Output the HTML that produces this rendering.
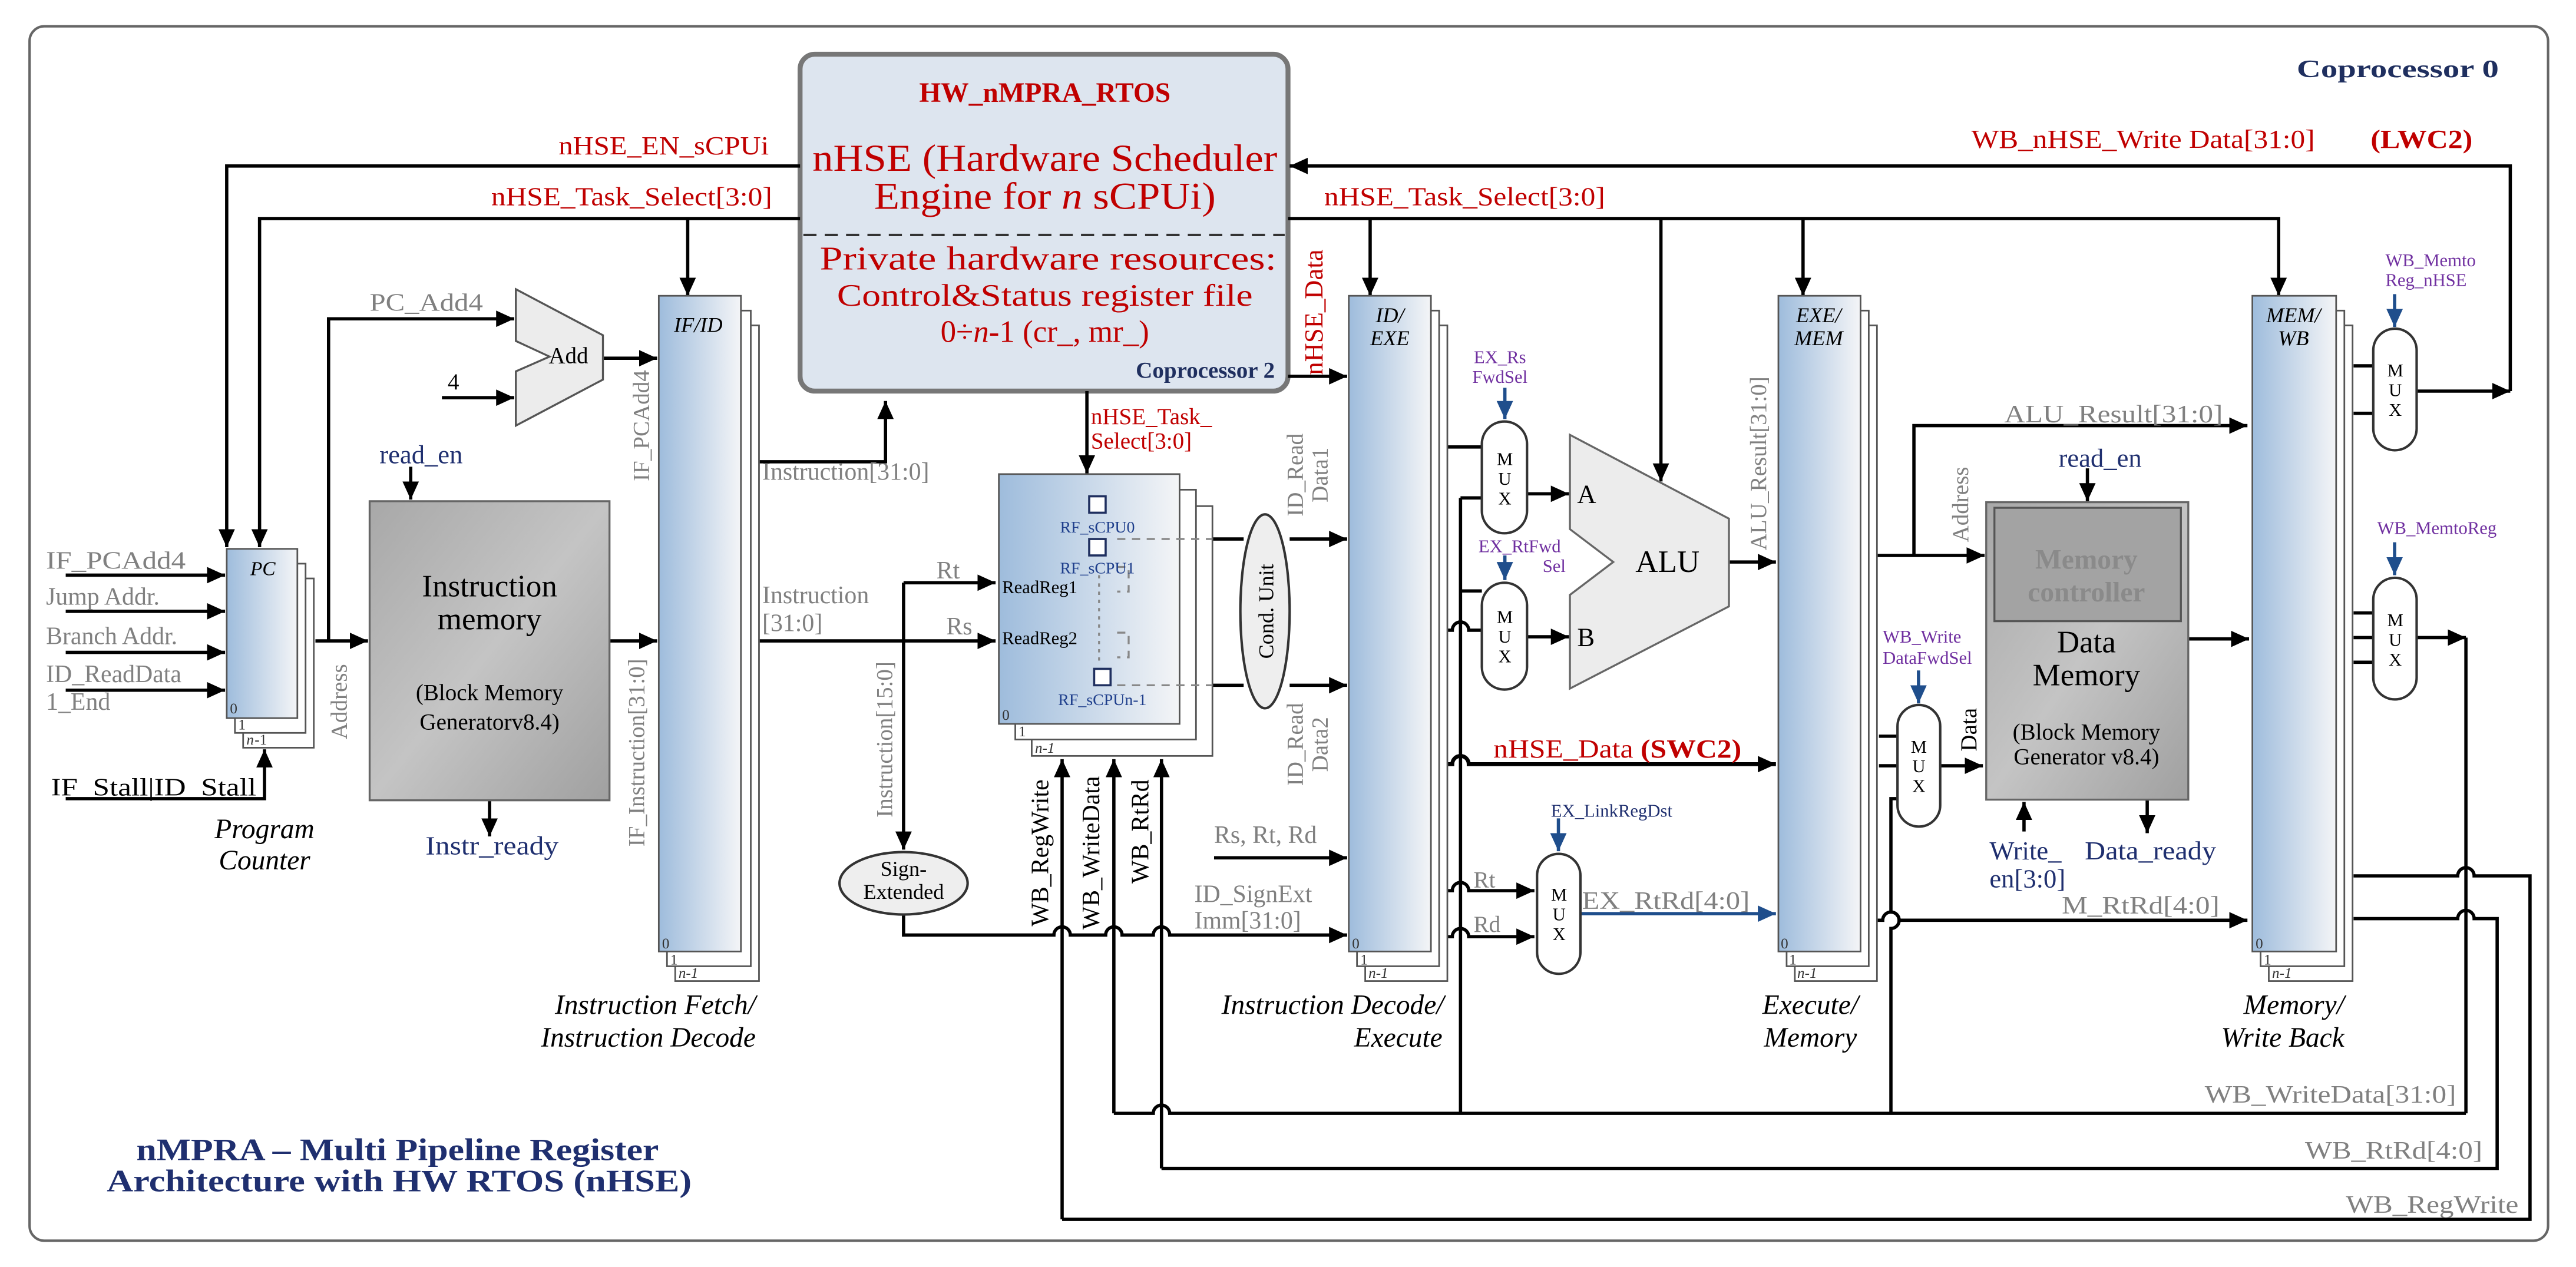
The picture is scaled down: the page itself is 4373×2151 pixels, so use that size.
<!DOCTYPE html>
<html><head><meta charset="utf-8"><style>html,body{margin:0;padding:0;background:#fff}svg{display:block}text{font-family:"Liberation Serif",serif}</style></head><body>
<svg width="4373" height="2151" viewBox="0 0 1568 771" preserveAspectRatio="none" xmlns="http://www.w3.org/2000/svg">
<defs>
<marker id="a" markerUnits="userSpaceOnUse" markerWidth="12" markerHeight="12" viewBox="0 0 12 12" refX="11" refY="6" orient="auto"><path d="M0,1 L11,6 L0,11 Z" fill="#000"/></marker>
<marker id="b" markerUnits="userSpaceOnUse" markerWidth="12" markerHeight="12" viewBox="0 0 12 12" refX="11" refY="6" orient="auto"><path d="M0,1 L11,6 L0,11 Z" fill="#1f4e8c"/></marker>
<linearGradient id="rg" x1="0" x2="1" y1="0" y2="0"><stop offset="0" stop-color="#9ebcdc"/><stop offset="1" stop-color="#f4f5f7"/></linearGradient>
<linearGradient id="gg" x1="0" x2="1" y1="0" y2="1"><stop offset="0" stop-color="#a8a8a8"/><stop offset="0.5" stop-color="#c4c4c4"/><stop offset="1" stop-color="#a0a0a0"/></linearGradient>
</defs>
<rect width="1568" height="771" fill="#fff"/>
<rect x="18" y="16" width="1533" height="739" rx="9" fill="#fff" stroke="#666" stroke-width="1.5"/>

<!-- HW box -->
<rect x="487" y="33" width="297" height="205" rx="9" fill="#dde5ef" stroke="#777" stroke-width="3"/>
<g fill="#c00000" text-anchor="middle">
<text x="636" y="62" font-size="17" font-weight="bold">HW_nMPRA_RTOS</text>
<text x="636" y="104" font-size="23" textLength="283" lengthAdjust="spacingAndGlyphs">nHSE (Hardware Scheduler</text>
<text x="636" y="127" font-size="23" textLength="208" lengthAdjust="spacingAndGlyphs">Engine for <tspan font-style="italic">n</tspan> sCPUi)</text>
<text x="638" y="164" font-size="20" textLength="278" lengthAdjust="spacingAndGlyphs">Private hardware resources:</text>
<text x="636" y="186" font-size="19" textLength="253" lengthAdjust="spacingAndGlyphs">Control&amp;Status register file</text>
<text x="636" y="208" font-size="19">0÷<tspan font-style="italic">n</tspan>-1 (cr_, mr_)</text>
</g>
<line x1="489" y1="143" x2="782" y2="143" stroke="#333" stroke-width="1.5" stroke-dasharray="8,5"/>
<text x="776" y="230" font-size="14" font-weight="bold" fill="#1f2f5f" text-anchor="end">Coprocessor 2</text>

<g fill="none" stroke="#000" stroke-width="2">
<!-- top lines -->
<polyline points="487,101 138,101 138,333" marker-end="url(#a)"/>
<polyline points="487,133 158,133 158,333" marker-end="url(#a)"/>
<line x1="418.6" y1="133" x2="418.6" y2="180" marker-end="url(#a)"/>
<polyline points="784,133 1387,133 1387,180" marker-end="url(#a)"/>
<line x1="834" y1="133" x2="834" y2="180" marker-end="url(#a)"/>
<line x1="1011" y1="133" x2="1011" y2="293" marker-end="url(#a)"/>
<line x1="1097.5" y1="133" x2="1097.5" y2="180" marker-end="url(#a)"/>
<polyline points="1528,238 1528,101 785,101" marker-end="url(#a)"/>
<line x1="1471" y1="238" x2="1528" y2="238" marker-end="url(#a)"/>
<line x1="784" y1="229" x2="820" y2="229" marker-end="url(#a)"/>
<line x1="661.6" y1="238" x2="661.6" y2="288" marker-end="url(#a)"/>
<polyline points="462,281 539,281 539,244" marker-end="url(#a)"/>
<!-- PC inputs -->
<line x1="40" y1="350" x2="137" y2="350" marker-end="url(#a)"/>
<line x1="40" y1="372" x2="137" y2="372" marker-end="url(#a)"/>
<line x1="40" y1="397" x2="137" y2="397" marker-end="url(#a)"/>
<line x1="40" y1="420" x2="137" y2="420" marker-end="url(#a)"/>
<polyline points="40,486 161,486 161,456" marker-end="url(#a)"/>
<line x1="192" y1="390" x2="224" y2="390" marker-end="url(#a)"/>
<polyline points="200,390 200,194 313,194" marker-end="url(#a)"/>
<line x1="269" y1="242" x2="313" y2="242" marker-end="url(#a)"/>
<line x1="367" y1="218" x2="400" y2="218" marker-end="url(#a)"/>
<line x1="250" y1="284" x2="250" y2="304" marker-end="url(#a)"/>
<line x1="371" y1="390" x2="400" y2="390" marker-end="url(#a)"/>
<line x1="298" y1="487" x2="298" y2="509" marker-end="url(#a)"/>
<!-- IF/ID out -->
<line x1="462" y1="390" x2="606" y2="390" marker-end="url(#a)"/>
<line x1="550" y1="354.6" x2="606" y2="354.6" marker-end="url(#a)"/>
<line x1="550" y1="354.6" x2="550" y2="517" marker-end="url(#a)"/>
<path d="M550,556.5 L550,569 L641.5,569 A5,5 0 0 1 651.5,569 L673,569 A5,5 0 0 1 683,569 L702,569 A5,5 0 0 1 712,569 L820,569" marker-end="url(#a)"/>
<!-- WB verticals -->
<line x1="646.5" y1="742" x2="646.5" y2="462" marker-end="url(#a)"/>
<line x1="678" y1="677.5" x2="678" y2="462" marker-end="url(#a)"/>
<line x1="707" y1="711" x2="707" y2="462" marker-end="url(#a)"/>
<!-- RF out -->
<line x1="738" y1="328" x2="757" y2="328"/>
<line x1="738" y1="417" x2="757" y2="417"/>
<line x1="785" y1="328" x2="820" y2="328" marker-end="url(#a)"/>
<line x1="785" y1="417" x2="820" y2="417" marker-end="url(#a)"/>
<line x1="739" y1="522" x2="820" y2="522" marker-end="url(#a)"/>
<!-- EX -->
<line x1="881" y1="272" x2="902" y2="272"/>
<line x1="889" y1="303" x2="902" y2="303"/>
<line x1="889" y1="303" x2="889" y2="677.5"/>
<line x1="889" y1="359.6" x2="902" y2="359.6"/>
<path d="M881,383.5 L884,383.5 A5,5 0 0 1 894,383.5 L902,383.5"/>
<line x1="929.5" y1="300.5" x2="955" y2="300.5" marker-end="url(#a)"/>
<line x1="929.5" y1="387.5" x2="955" y2="387.5" marker-end="url(#a)"/>
<line x1="1052.4" y1="342" x2="1081" y2="342" marker-end="url(#a)"/>
<path d="M881,465 L884,465 A5,5 0 0 1 894,465 L1081,465" stroke-width="2.4" marker-end="url(#a)"/>
<path d="M881,542 L884,542 A5,5 0 0 1 894,542 L934,542" marker-end="url(#a)"/>
<path d="M881,570 L884,570 A5,5 0 0 1 894,570 L934,570" marker-end="url(#a)"/>
<!-- MEM -->
<line x1="1142.7" y1="338" x2="1208" y2="338" marker-end="url(#a)"/>
<polyline points="1165,338 1165,259 1368,259" marker-end="url(#a)"/>
<line x1="1270.6" y1="285" x2="1270.6" y2="305" marker-end="url(#a)"/>
<line x1="1332" y1="388.8" x2="1369" y2="388.8" marker-end="url(#a)"/>
<line x1="1143.7" y1="448" x2="1155" y2="448"/>
<line x1="1143.7" y1="466" x2="1155" y2="466"/>
<path d="M1155,486 L1151,486 L1151,555 A5,5 0 0 1 1151,565 L1151,677.5"/>
<line x1="1181" y1="466" x2="1207" y2="466" marker-end="url(#a)"/>
<line x1="1232" y1="506" x2="1232" y2="488" marker-end="url(#a)"/>
<line x1="1307" y1="487" x2="1307" y2="507" marker-end="url(#a)"/>
<path d="M1142.7,560 L1146,560 A5,5 0 0 1 1156,560 L1368,560" marker-end="url(#a)"/>
<!-- WB -->
<line x1="1432.6" y1="222.6" x2="1444.6" y2="222.6"/>
<line x1="1432.6" y1="251.5" x2="1444.6" y2="251.5"/>
<line x1="1432.6" y1="373" x2="1444.6" y2="373"/>
<line x1="1432.6" y1="388" x2="1444.6" y2="388"/>
<line x1="1432.6" y1="403" x2="1444.6" y2="403"/>
<line x1="1471" y1="388" x2="1501" y2="388" marker-end="url(#a)"/>
<line x1="1501" y1="388" x2="1501" y2="677.5"/>
<path d="M1432.6,533 L1496,533 A5,5 0 0 1 1506,533 L1540,533 L1540,742 L646.5,742"/>
<path d="M1432.6,559 L1496,559 A5,5 0 0 1 1506,559 L1520,559 L1520,711 L707,711"/>
<path d="M678,677.5 L702,677.5 A5,5 0 0 1 712,677.5 L1501,677.5"/>
</g>
<g fill="none" stroke="#1f4e8c" stroke-width="2">
<line x1="916" y1="236" x2="916" y2="255" marker-end="url(#b)"/>
<line x1="916" y1="338" x2="916" y2="353" marker-end="url(#b)"/>
<line x1="948.6" y1="498" x2="948.6" y2="518" marker-end="url(#b)"/>
<line x1="962" y1="556" x2="1081" y2="556" marker-end="url(#b)"/>
<line x1="1167.8" y1="408" x2="1167.8" y2="428" marker-end="url(#b)"/>
<line x1="1457.6" y1="179" x2="1457.6" y2="199" marker-end="url(#b)"/>
<line x1="1457.6" y1="330" x2="1457.6" y2="350" marker-end="url(#b)"/>
</g>

<!-- register stacks -->
<g stroke="#555" stroke-width="1">
<rect x="148" y="352" width="43" height="103" fill="#fff"/><rect x="143" y="343" width="43" height="103" fill="#fff"/><rect x="138" y="334" width="43" height="103" fill="url(#rg)"/>
<rect x="411" y="198" width="51" height="399" fill="#fff"/><rect x="406" y="189" width="51" height="399" fill="#fff"/><rect x="401" y="180" width="50" height="399" fill="url(#rg)"/>
<rect x="628" y="308" width="110" height="152" fill="#fff"/><rect x="618" y="298" width="110" height="152" fill="#fff"/><rect x="608" y="288.5" width="110" height="152" fill="url(#rg)"/>
<rect x="831" y="198" width="50" height="399" fill="#fff"/><rect x="826" y="189" width="50" height="399" fill="#fff"/><rect x="821" y="180" width="50" height="399" fill="url(#rg)"/>
<rect x="1092.5" y="198" width="50" height="399" fill="#fff"/><rect x="1087.5" y="189" width="50" height="399" fill="#fff"/><rect x="1082.5" y="180" width="50" height="399" fill="url(#rg)"/>
<rect x="1381" y="198" width="51" height="399" fill="#fff"/><rect x="1376" y="189" width="51" height="399" fill="#fff"/><rect x="1371" y="180" width="51" height="399" fill="url(#rg)"/>
</g>
<g font-size="9" fill="#333">
<text x="140" y="434">0</text><text x="145" y="444">1</text><text x="150" y="453" font-style="italic">n</text><text x="155" y="453">-1</text>
<text x="403" y="577">0</text><text x="408" y="587">1</text><text x="413" y="595" font-style="italic">n-1</text>
<text x="610" y="438">0</text><text x="620" y="448">1</text><text x="630" y="458" font-style="italic">n-1</text>
<text x="823" y="577">0</text><text x="828" y="587">1</text><text x="833" y="595" font-style="italic">n-1</text>
<text x="1084" y="577">0</text><text x="1089" y="587">1</text><text x="1094" y="595" font-style="italic">n-1</text>
<text x="1373" y="577">0</text><text x="1378" y="587">1</text><text x="1383" y="595" font-style="italic">n-1</text>
</g>

<!-- shapes -->
<polygon points="314,176 367,204 367,231 314,259 314,226 334.5,217 314,207.5" fill="#ececec" stroke="#555" stroke-width="1.2"/>
<rect x="225" y="305" width="146" height="182" fill="url(#gg)" stroke="#666" stroke-width="1.2"/>
<ellipse cx="550" cy="537.5" rx="39" ry="19" fill="#eee" stroke="#333" stroke-width="1.5"/>
<ellipse cx="770" cy="372" rx="15" ry="59" fill="#eee" stroke="#333" stroke-width="1.5"/>
<polygon points="955.6,264.6 1052.4,315.6 1052.4,369 955.6,419 955.6,362 982,342 955.6,322" fill="#ececec" stroke="#666" stroke-width="1.2"/>
<rect x="1209" y="305.6" width="123" height="181" fill="url(#gg)" stroke="#666" stroke-width="1.2"/>
<rect x="1214" y="309" width="113.5" height="69" fill="#a3a3a3" stroke="#555" stroke-width="1.2"/>
<g fill="#fff" stroke="#333" stroke-width="1.5">
<rect x="902" y="256.5" width="27.5" height="68" rx="13.7"/>
<rect x="902" y="354.6" width="27.5" height="65" rx="13.7"/>
<rect x="935.6" y="519.6" width="26.4" height="73" rx="13.2"/>
<rect x="1155" y="429" width="26" height="74" rx="13"/>
<rect x="1444.6" y="200" width="26.4" height="74" rx="13.2"/>
<rect x="1444.6" y="351.6" width="26.4" height="74" rx="13.2"/>
</g>
<!-- RF internals -->
<g stroke="#888" stroke-width="1.2" fill="none" stroke-dasharray="5,4">
<line x1="680" y1="328" x2="738" y2="328"/><line x1="680" y1="417" x2="738" y2="417"/>
<line x1="669" y1="350" x2="669" y2="405" stroke-dasharray="2,3"/>
<polyline points="680,345 687,345 687,360 680,360"/><polyline points="680,385 687,385 687,400 680,400"/>
</g>
<g fill="#fff" stroke="#1f2f5f" stroke-width="1.3">
<rect x="663" y="302" width="10" height="10"/><rect x="663" y="328" width="10" height="10"/><rect x="666" y="407" width="10" height="10"/>
</g>
<g font-size="10" fill="#1f3f8c" text-anchor="middle">
<text x="668" y="324">RF_sCPU0</text><text x="668" y="349">RF_sCPU1</text><text x="671" y="429">RF_sCPUn-1</text>
</g>
<text x="610" y="361" font-size="11">ReadReg1</text><text x="610" y="392" font-size="11">ReadReg2</text>

<!-- text labels -->
<g fill="#c00000" font-size="16">
<text x="340" y="94" textLength="128" lengthAdjust="spacingAndGlyphs">nHSE_EN_sCPUi</text>
<text x="299" y="125" textLength="171" lengthAdjust="spacingAndGlyphs">nHSE_Task_Select[3:0]</text>
<text x="806" y="125" textLength="171" lengthAdjust="spacingAndGlyphs">nHSE_Task_Select[3:0]</text>
<text x="1200" y="90" textLength="209" lengthAdjust="spacingAndGlyphs">WB_nHSE_Write Data[31:0]</text>
<text x="1443" y="90" font-weight="bold" textLength="62" lengthAdjust="spacingAndGlyphs">(LWC2)</text>
<text x="664" y="258" font-size="14">nHSE_Task_</text><text x="664" y="273" font-size="14">Select[3:0]</text>
<text transform="translate(805,190) rotate(-90)" text-anchor="middle">nHSE_Data</text>
<text x="909" y="461" textLength="151" lengthAdjust="spacingAndGlyphs">nHSE_Data <tspan font-weight="bold">(SWC2)</tspan></text>
</g>
<text x="1398" y="47" font-size="15" font-weight="bold" fill="#1f2f5f" textLength="123" lengthAdjust="spacingAndGlyphs">Coprocessor 0</text>

<g fill="#808080" font-size="15">
<text x="28" y="346" textLength="85" lengthAdjust="spacingAndGlyphs">IF_PCAdd4</text>
<text x="28" y="368">Jump Addr.</text>
<text x="28" y="392">Branch Addr.</text>
<text x="28" y="415">ID_ReadData</text>
<text x="28" y="432">1_End</text>
<text x="225" y="189" textLength="69" lengthAdjust="spacingAndGlyphs">PC_Add4</text>
<text transform="translate(211,427) rotate(-90)" text-anchor="middle" font-size="14">Address</text>
<text transform="translate(395,259) rotate(-90)" text-anchor="middle" font-size="14">IF_PCAdd4</text>
<text transform="translate(392,458) rotate(-90)" text-anchor="middle" font-size="14">IF_Instruction[31:0]</text>
<text x="464" y="292">Instruction[31:0]</text>
<text x="464" y="367">Instruction</text><text x="464" y="384">[31:0]</text>
<text x="570" y="352">Rt</text><text x="576" y="386">Rs</text>
<text transform="translate(543,450) rotate(-90)" text-anchor="middle" font-size="14">Instruction[15:0]</text>
<text transform="translate(793,289) rotate(-90)" text-anchor="middle" font-size="14">ID_Read</text>
<text transform="translate(808,289) rotate(-90)" text-anchor="middle" font-size="14">Data1</text>
<text transform="translate(793,453) rotate(-90)" text-anchor="middle" font-size="14">ID_Read</text>
<text transform="translate(808,453) rotate(-90)" text-anchor="middle" font-size="14">Data2</text>
<text x="739" y="513">Rs, Rt, Rd</text>
<text x="727" y="549">ID_SignExt</text><text x="727" y="565">Imm[31:0]</text>
<text x="897" y="540" font-size="14">Rt</text><text x="897" y="567" font-size="14">Rd</text>
<text x="963" y="553" textLength="102" lengthAdjust="spacingAndGlyphs">EX_RtRd[4:0]</text>
<text transform="translate(1075,282) rotate(-90)" text-anchor="middle" font-size="14">ALU_Result[31:0]</text>
<text x="1220" y="257" textLength="133" lengthAdjust="spacingAndGlyphs">ALU_Result[31:0]</text>
<text transform="translate(1198,307) rotate(-90)" text-anchor="middle" font-size="14">Address</text>
<text x="1255" y="556" textLength="96" lengthAdjust="spacingAndGlyphs">M_RtRd[4:0]</text>
<text x="1342" y="671" textLength="153" lengthAdjust="spacingAndGlyphs">WB_WriteData[31:0]</text>
<text x="1403" y="705" textLength="108" lengthAdjust="spacingAndGlyphs">WB_RtRd[4:0]</text>
<text x="1428" y="738" textLength="105" lengthAdjust="spacingAndGlyphs">WB_RegWrite</text>
</g>

<g fill="#000">
<text x="31" y="484" font-size="15" textLength="125" lengthAdjust="spacingAndGlyphs">IF_Stall|ID_Stall</text>
<text x="160" y="350" font-size="12" font-style="italic" text-anchor="middle">PC</text>
<text x="425" y="202" font-size="13" font-style="italic" text-anchor="middle">IF/ID</text>
<text x="846" y="196" font-size="13" font-style="italic" text-anchor="middle">ID/</text><text x="846" y="210" font-size="13" font-style="italic" text-anchor="middle">EXE</text>
<text x="1107" y="196" font-size="13" font-style="italic" text-anchor="middle">EXE/</text><text x="1107" y="210" font-size="13" font-style="italic" text-anchor="middle">MEM</text>
<text x="1396" y="196" font-size="13" font-style="italic" text-anchor="middle">MEM/</text><text x="1396" y="210" font-size="13" font-style="italic" text-anchor="middle">WB</text>
<text x="346" y="221" font-size="14" text-anchor="middle">Add</text>
<text x="276" y="237" font-size="14" text-anchor="middle">4</text>
<text x="298" y="363" font-size="19" text-anchor="middle">Instruction</text>
<text x="298" y="383" font-size="19" text-anchor="middle">memory</text>
<text x="298" y="426" font-size="14" text-anchor="middle">(Block Memory</text>
<text x="298" y="444" font-size="14" text-anchor="middle">Generatorv8.4)</text>
<text x="550" y="533" font-size="13" text-anchor="middle">Sign-</text>
<text x="550" y="547" font-size="13" text-anchor="middle">Extended</text>
<text transform="translate(775,372) rotate(-90)" text-anchor="middle" font-size="13">Cond. Unit</text>
<text transform="translate(638,519) rotate(-90)" text-anchor="middle" font-size="15">WB_RegWrite</text>
<text transform="translate(669,519) rotate(-90)" text-anchor="middle" font-size="15">WB_WriteData</text>
<text transform="translate(699,506) rotate(-90)" text-anchor="middle" font-size="15">WB_RtRd</text>
<g font-size="11" text-anchor="middle">
<text x="916" y="283">M</text><text x="916" y="295">U</text><text x="916" y="307">X</text>
<text x="916" y="379">M</text><text x="916" y="391">U</text><text x="916" y="403">X</text>
<text x="949" y="548">M</text><text x="949" y="560">U</text><text x="949" y="572">X</text>
<text x="1168" y="458">M</text><text x="1168" y="470">U</text><text x="1168" y="482">X</text>
<text x="1458" y="229">M</text><text x="1458" y="241">U</text><text x="1458" y="253">X</text>
<text x="1458" y="381">M</text><text x="1458" y="393">U</text><text x="1458" y="405">X</text>
</g>
<text x="960" y="306" font-size="16">A</text>
<text x="960" y="393" font-size="16">B</text>
<text x="1015" y="348" font-size="19" text-anchor="middle">ALU</text>
<text transform="translate(1203,444) rotate(-90)" text-anchor="middle" font-size="14">Data</text>
<text x="1270" y="397" font-size="19" text-anchor="middle">Data</text>
<text x="1270" y="417" font-size="19" text-anchor="middle">Memory</text>
<text x="1270" y="450" font-size="14" text-anchor="middle">(Block Memory</text>
<text x="1270" y="465" font-size="14" text-anchor="middle">Generator v8.4)</text>
</g>
<text x="1270" y="346" font-size="17" font-weight="bold" fill="#8a8a8a" text-anchor="middle">Memory</text>
<text x="1270" y="366" font-size="17" font-weight="bold" fill="#8a8a8a" text-anchor="middle">controller</text>

<g fill="#1f2f6f" font-size="16">
<text x="231" y="282">read_en</text>
<text x="259" y="520" textLength="81" lengthAdjust="spacingAndGlyphs">Instr_ready</text>
<text x="1253" y="284">read_en</text>
<text x="1211" y="523">Write_</text><text x="1211" y="540">en[3:0]</text>
<text x="1269" y="523" textLength="80" lengthAdjust="spacingAndGlyphs">Data_ready</text>
<text x="981" y="497" font-size="11" text-anchor="middle">EX_LinkRegDst</text>
</g>
<g fill="#7030a0" font-size="11">
<text x="913" y="221" text-anchor="middle">EX_Rs</text><text x="913" y="233" text-anchor="middle">FwdSel</text>
<text x="925" y="336" text-anchor="middle">EX_RtFwd</text><text x="946" y="348" text-anchor="middle">Sel</text>
<text x="1146" y="391">WB_Write</text><text x="1146" y="404">DataFwdSel</text>
<text x="1452" y="162">WB_Memto</text><text x="1452" y="174">Reg_nHSE</text>
<text x="1447" y="325">WB_MemtoReg</text>
</g>

<g font-style="italic" font-size="17" fill="#000">
<text x="161" y="510" text-anchor="middle">Program</text><text x="161" y="529" text-anchor="middle">Counter</text>
<text x="460" y="617" text-anchor="end">Instruction Fetch/</text><text x="460" y="637" text-anchor="end">Instruction Decode</text>
<text x="879" y="617" text-anchor="end">Instruction Decode/</text><text x="878" y="637" text-anchor="end">Execute</text>
<text x="1102" y="617" text-anchor="middle">Execute/</text><text x="1102" y="637" text-anchor="middle">Memory</text>
<text x="1427" y="617" text-anchor="end">Memory/</text><text x="1427" y="637" text-anchor="end">Write Back</text>
</g>
<g fill="#1f2f6f" font-size="19" font-weight="bold" text-anchor="middle">
<text x="242" y="706" textLength="318" lengthAdjust="spacingAndGlyphs">nMPRA – Multi Pipeline Register</text>
<text x="243" y="725" textLength="356" lengthAdjust="spacingAndGlyphs">Architecture with HW RTOS (nHSE)</text>
</g>
</svg>
</body></html>
